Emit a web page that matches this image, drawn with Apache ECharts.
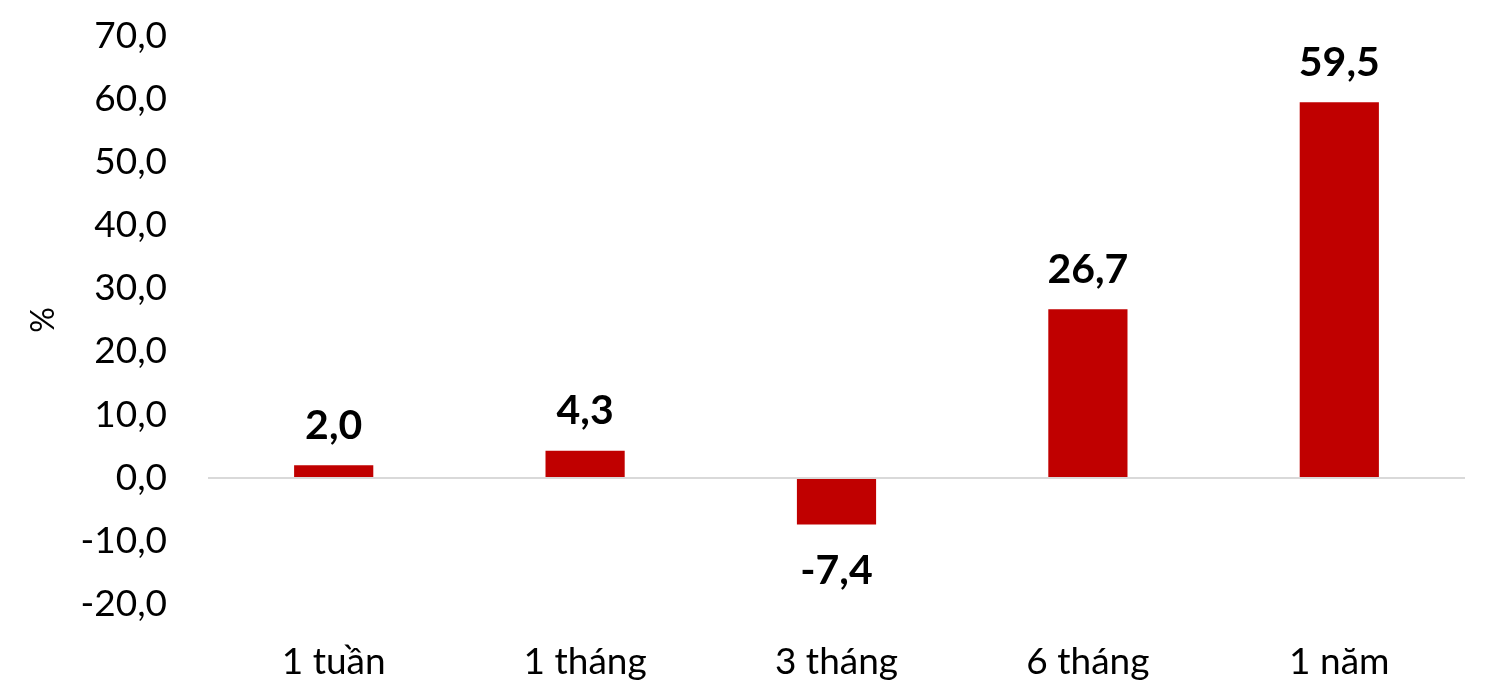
<!DOCTYPE html>
<html>
<head>
<meta charset="utf-8">
<script src="https://cdn.jsdelivr.net/npm/echarts@6/dist/echarts.min.js"></script>
<style>
html,body{margin:0;padding:0;background:#fff;}
#chart{width:1486px;height:682px;}
</style>
</head>
<body>
<div id="chart"></div>
<script>
var categories = ['1 tuần', '1 tháng', '3 tháng', '6 tháng', '1 năm'];
var values = [2.0, 4.3, -7.4, 26.7, 59.5];
var yMin = -20, yMax = 70, yStep = 10;
var yName = '%';

function fmt(v) { return v.toFixed(1).replace('.', ','); }

var chart = echarts.init(document.getElementById('chart'), null, {renderer: 'canvas'});
var seriesData = values.map(function (v) {
  if (v < 0) {
    return {value: v, label: {position: 'bottom', distance: 26}};
  }
  return v;
});
chart.setOption({
  animation: false,
  backgroundColor: '#ffffff',
  grid: {left: 208, right: 21, top: 36, bottom: 78, containLabel: false},
  xAxis: {
    type: 'category',
    data: categories,
    position: 'bottom',
    axisLine: {show: false, onZero: false},
    axisTick: {show: false},
    axisLabel: {
      color: '#000', fontFamily: 'Lato', fontSize: 37, margin: 40
    }
  },
  yAxis: {
    type: 'value',
    min: yMin, max: yMax, interval: yStep,
    name: yName,
    nameLocation: 'middle',
    nameGap: 148,
    nameRotate: 90,
    nameTextStyle: {color: '#000', fontFamily: 'Lato', fontSize: 32},
    axisLine: {show: false},
    axisTick: {show: false},
    splitLine: {show: false},
    axisLabel: {
      color: '#000', fontFamily: 'Lato', fontSize: 37, margin: 41,
      formatter: function (v) { return fmt(v); }
    }
  },
  series: [{
    type: 'bar',
    data: seriesData,
    barWidth: '31.5%',
    itemStyle: {color: '#C00000'},
    label: {
      show: true,
      color: '#000',
      fontFamily: 'Lato',
      fontWeight: 'bold',
      fontSize: 41,
      formatter: function (p) { return fmt(p.value); },
      position: 'top',
      distance: 19
    },
    markLine: {
      silent: true,
      symbol: ['none', 'none'],
      label: {show: false},
      lineStyle: {color: '#d9d9d9', width: 2, type: 'solid'},
      data: [{yAxis: 0}]
    }
  }]
});
</script>
</body>
</html>
